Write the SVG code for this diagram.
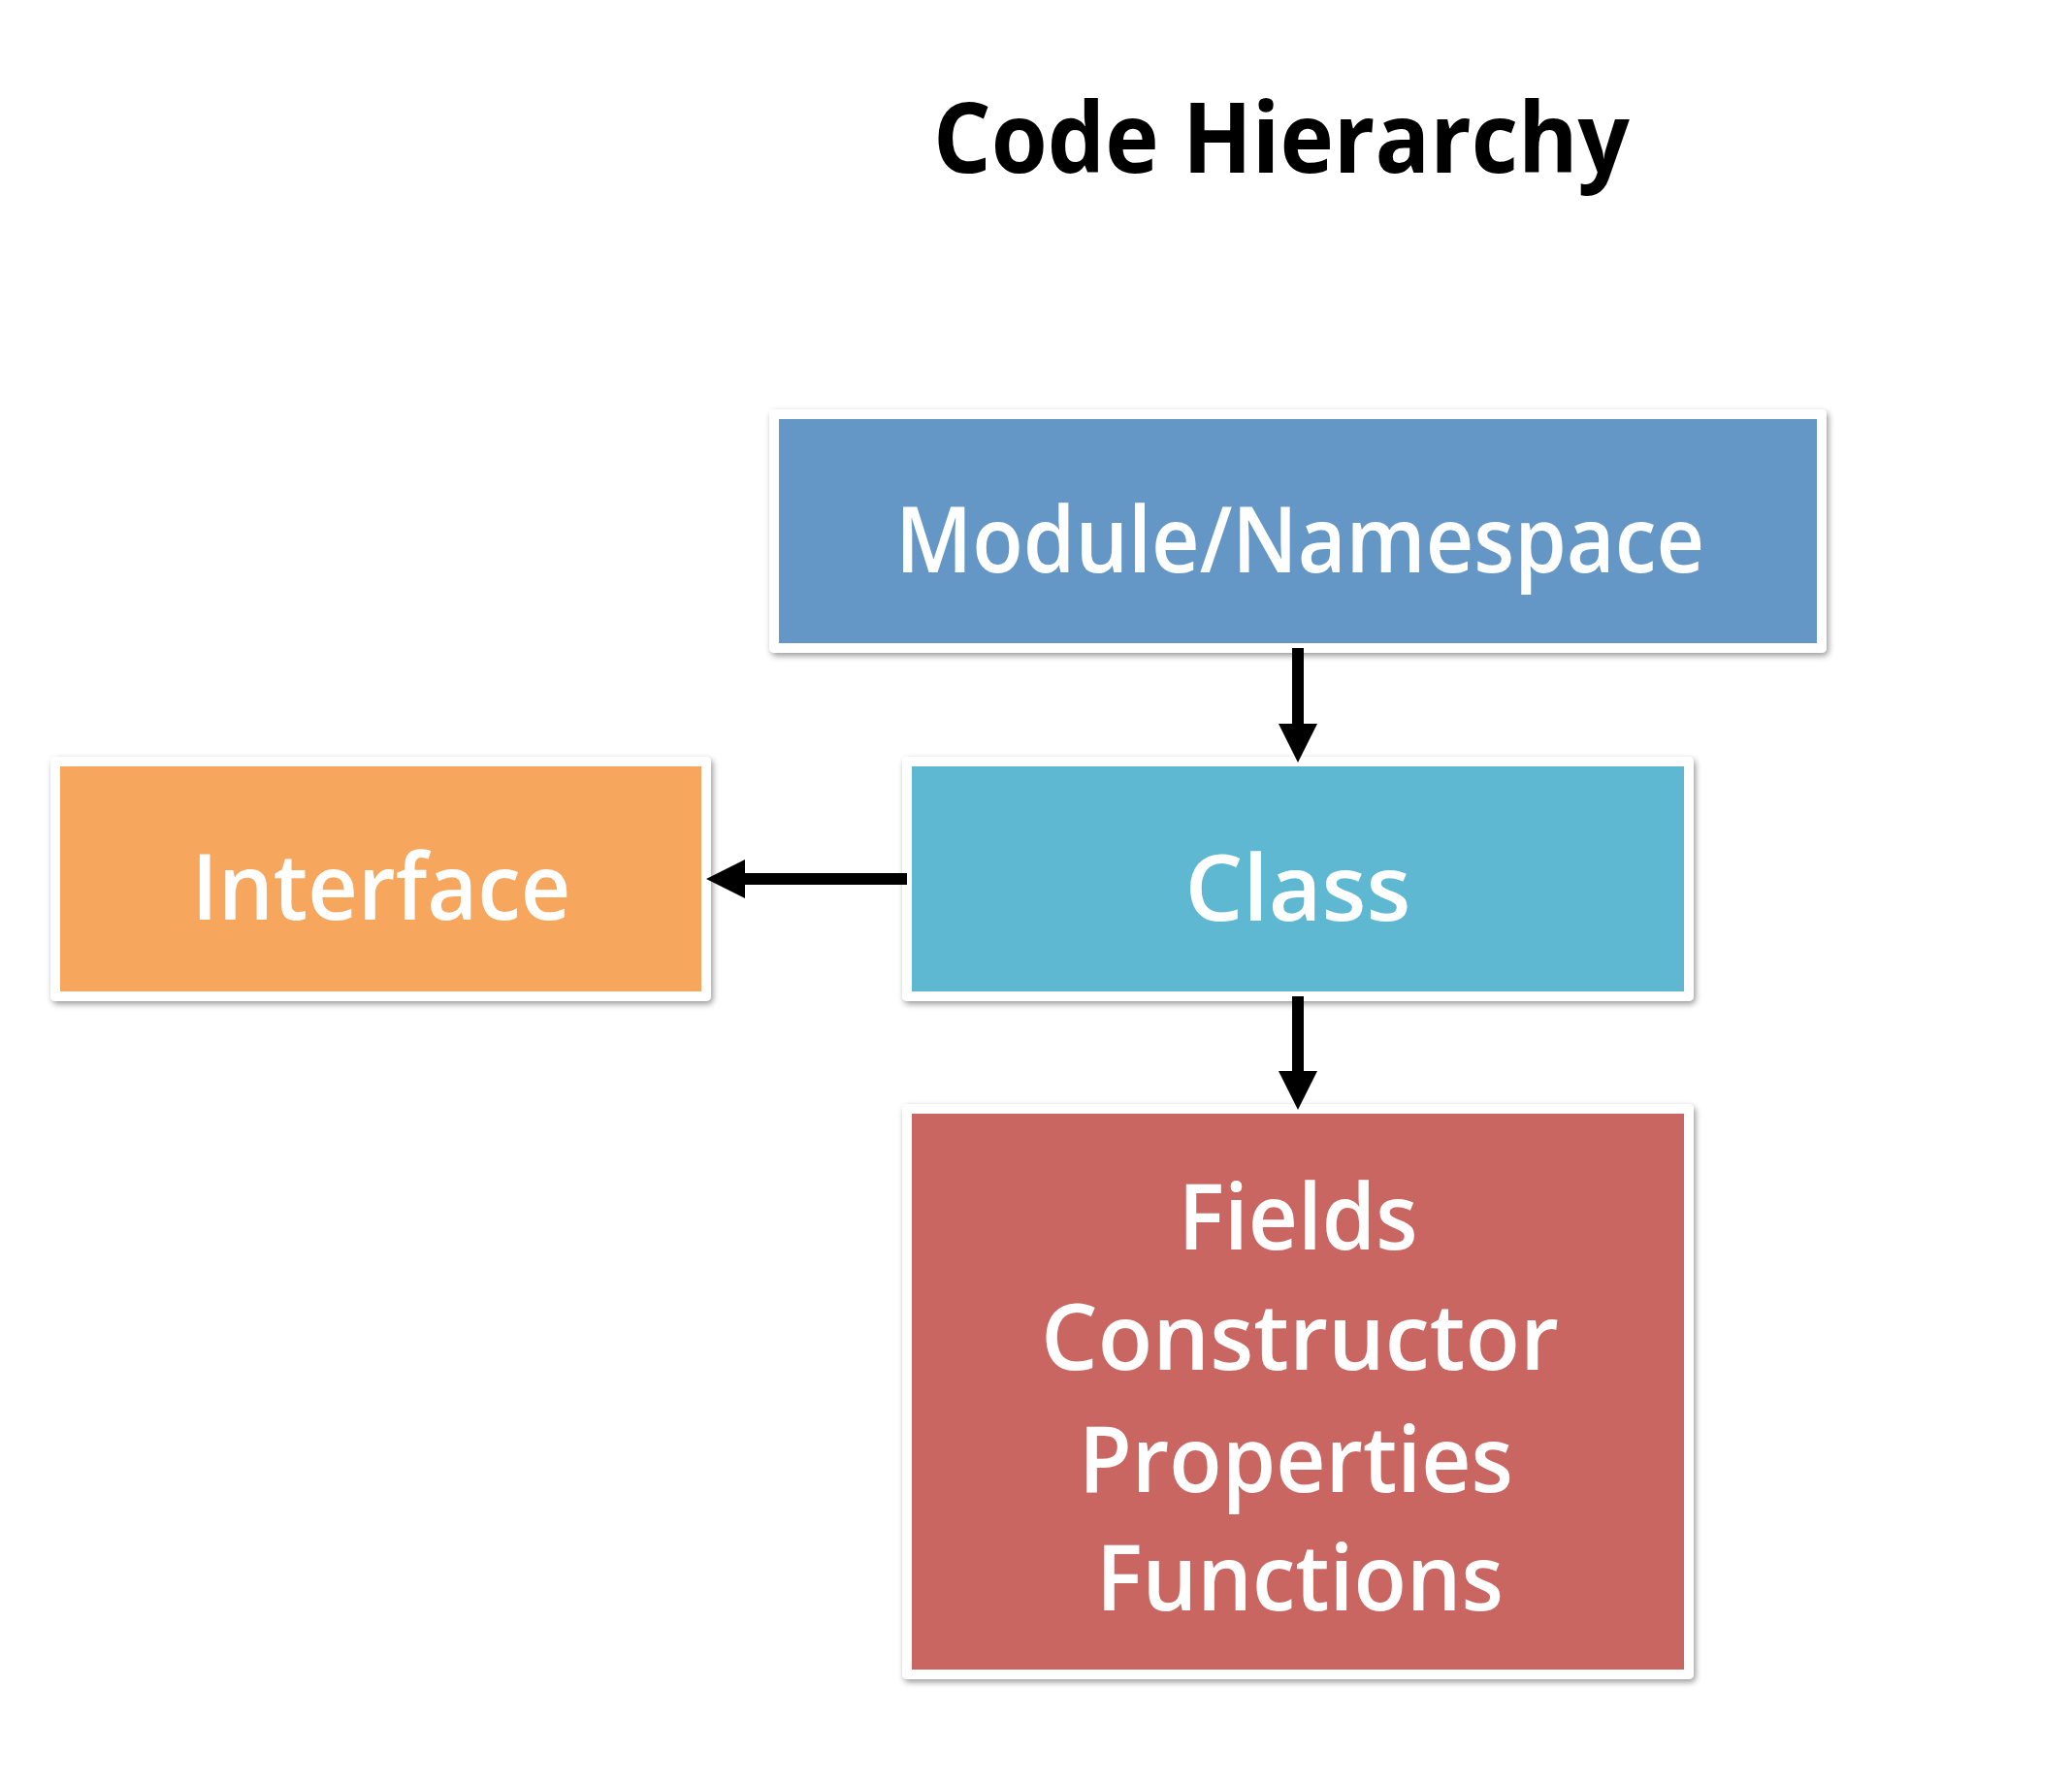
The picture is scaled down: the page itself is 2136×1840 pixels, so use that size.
<svg xmlns="http://www.w3.org/2000/svg" width="2136" height="1840" viewBox="0 0 2136 1840">
<style>
.frame{fill:#ffffff;filter:url(#shadow)}
.lbl{font-family:"Open Sans","Noto Sans","Liberation Sans",sans-serif;font-weight:600;font-size:94px;fill:#ffffff;text-anchor:middle}
.title{font-family:"Open Sans","Liberation Sans",sans-serif;font-weight:700;font-size:100px;fill:#000000;text-anchor:middle}
.conn{stroke:#000000;stroke-width:12;fill:none;marker-end:url(#head)}
</style>
<defs>
<filter id="shadow" x="-5%" y="-10%" width="110%" height="120%">
<feDropShadow dx="2" dy="3" stdDeviation="3" flood-color="#000000" flood-opacity="0.4"/>
</filter>
<marker id="head" markerUnits="userSpaceOnUse" markerWidth="40" markerHeight="40" viewBox="0 0 39 39" refX="0" refY="19.5" orient="auto">
<path d="M0,0 L39,19.5 L0,39 Z" fill="#000000"/>
</marker>
</defs>
<rect width="2136" height="1840" fill="#ffffff"/>
<text class="title" x="1321" y="178" textLength="718" lengthAdjust="spacingAndGlyphs">Code Hierarchy</text>
<g id="module">
<rect class="frame" x="793" y="422" width="1090" height="251" rx="5"/>
<rect x="803" y="432" width="1070" height="231" fill="#6497c6"/>
<text class="lbl" x="1340" y="590" textLength="834" lengthAdjust="spacingAndGlyphs">Module/Namespace</text>
</g>
<g id="interface">
<rect class="frame" x="52" y="780" width="681" height="252" rx="5"/>
<rect x="62" y="790" width="661" height="232" fill="#f7a65e"/>
<text class="lbl" x="393" y="948" textLength="391" lengthAdjust="spacingAndGlyphs">Interface</text>
</g>
<g id="class">
<rect class="frame" x="930" y="780" width="816" height="252" rx="5"/>
<rect x="940" y="790" width="796" height="232" fill="#5eb8d1"/>
<text class="lbl" x="1338" y="949" textLength="233" lengthAdjust="spacingAndGlyphs">Class</text>
</g>
<g id="members">
<rect class="frame" x="930" y="1138" width="816" height="593" rx="5"/>
<rect x="940" y="1148" width="796" height="573" fill="#c96661"/>
<text class="lbl" x="1338" y="1288" textLength="247" lengthAdjust="spacingAndGlyphs">Fields</text>
<text class="lbl" x="1340" y="1412" textLength="534" lengthAdjust="spacingAndGlyphs">Constructor</text>
<text class="lbl" x="1336" y="1538" textLength="448" lengthAdjust="spacingAndGlyphs">Properties</text>
<text class="lbl" x="1340" y="1660" textLength="420" lengthAdjust="spacingAndGlyphs">Functions</text>
</g>
<g id="connectors">
<line class="conn" x1="1338" y1="668" x2="1338" y2="746"/>
<line class="conn" x1="1338" y1="1027" x2="1338" y2="1104"/>
<line class="conn" x1="935" y1="906" x2="768" y2="906"/>
</g>
</svg>
